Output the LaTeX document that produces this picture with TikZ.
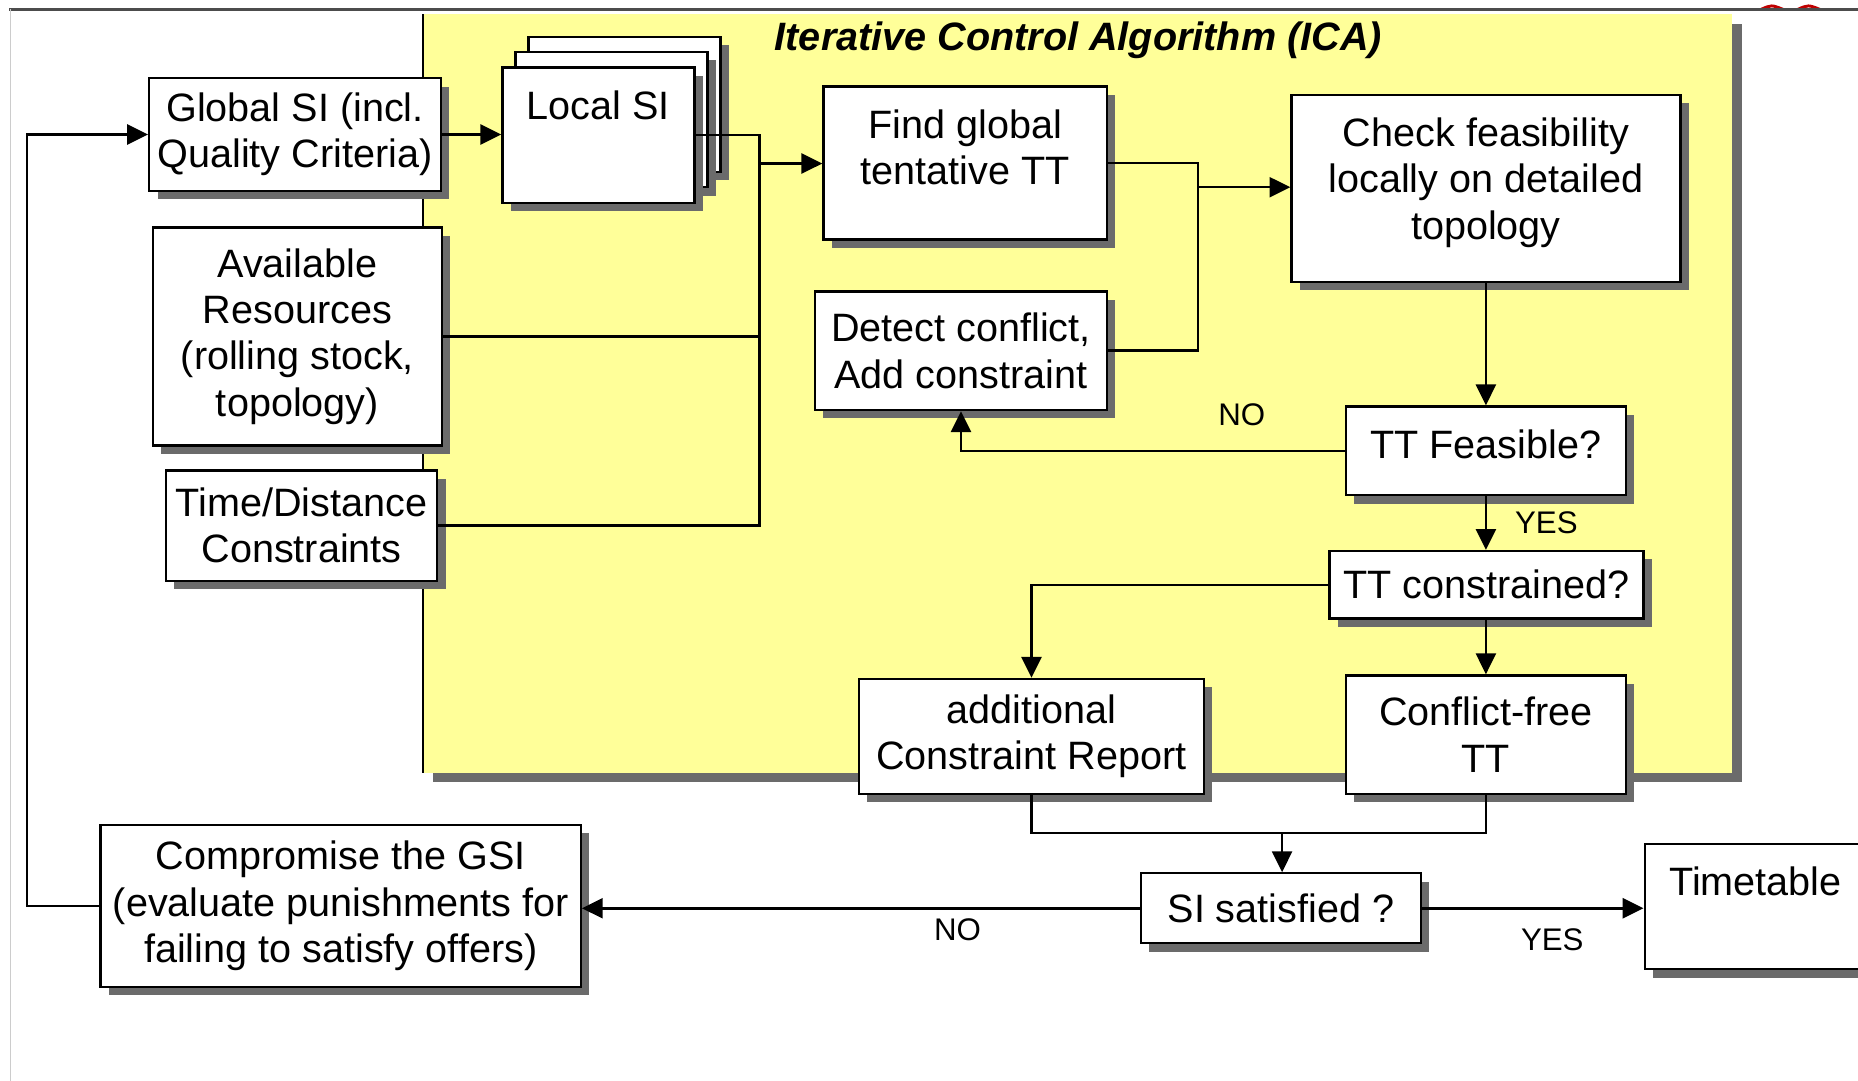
\documentclass[tikz,border=0pt]{standalone}
\usepackage{fontspec}
\setmainfont{Liberation Sans}
\usetikzlibrary{arrows.meta,shadows}

\definecolor{icayellow}{HTML}{FFFF99}
\definecolor{shadowgray}{HTML}{6B6B6B}

\tikzset{
  box/.style={draw, fill=white, line width=.55pt, align=center, inner sep=2pt,
    font=\fontsize{9.5}{11.1}\selectfont,
    drop shadow={shadow xshift=2pt, shadow yshift=-2pt, fill=shadowgray, opacity=1}},
  toptext/.style={label={[anchor=north, yshift=-2.3pt, align=center,
    font=\fontsize{9.5}{11.1}\selectfont]north:#1}},
  link/.style={line width=.6pt},
  arr/.style={link, -{Triangle[length=5pt, width=4.8pt]}},
  answer/.style={font=\fontsize{7.5}{9}\selectfont},
}

\begin{document}
\begin{tikzpicture}[x=0.01cm, y=-0.01cm]

            \useasboundingbox (0,0) rectangle (1568,912);
            \fill[white] (0,0) rectangle (1568,912);
            \draw[red!75!black, line width=.7pt] (1486,8) .. controls (1495,4) .. (1505,8);
            \draw[red!75!black, line width=.7pt] (1517,8) .. controls (1526,4) .. (1536,8);
            \draw[black!70, line width=.6pt] (8,8) -- (1568,8);
            \draw[black!20, line width=.4pt] (9,8) -- (9,912);

            % ICA area
            \fill[shadowgray] (365,20) rectangle (1470,660);
            \fill[icayellow] (357,12) rectangle (1462,652);
            \draw[link] (357,12) -- (357,652);
            \node[font=\fontsize{9.5}{11}\selectfont\bfseries\itshape] (title) at (910,34) {Iterative Control Algorithm (ICA)};

            % inputs
            \node[box, minimum width=2.46cm, minimum height=.95cm] (glob) at (249,113.5) {Global SI (incl.\\Quality Criteria)};
            \node[box, minimum width=2.44cm, minimum height=1.84cm] (avail) at (251,284) {Available\\Resources\\(rolling stock,\\topology)};
            \node[box, minimum width=2.29cm, minimum height=.93cm] (tdc) at (254.5,443.5) {Time/Distance\\Constraints};

            \foreach \i in {2,1} {
              \node[box, minimum width=1.62cm, minimum height=1.14cm] (local\i) at ({505+11*\i},{114-13*\i}) {};
            }
            \node[box, minimum width=1.62cm, minimum height=1.14cm, toptext={Local SI}] (local) at (505,114) {};

            % algorithm
            \node[box, minimum width=2.39cm, minimum height=1.29cm, toptext={Find global\\tentative TT}] (find) at (814.5,137.5) {};
            \node[box, minimum width=2.46cm, minimum height=1cm] (detect) at (811,296) {Detect conflict,\\Add constraint};
            \node[box, minimum width=3.28cm, minimum height=1.58cm, toptext={Check feasibility\\locally on detailed\\topology}] (check) at (1254,159) {};
            \node[box, minimum width=2.36cm, minimum height=.75cm, toptext={TT Feasible?}] (feas) at (1254,380.5) {};
            \node[box, minimum width=2.65cm, minimum height=.57cm] (constr) at (1254.5,493.5) {TT constrained?};
            \node[box, minimum width=2.91cm, minimum height=.97cm] (report) at (870.5,621.5) {additional\\Constraint Report};
            \node[box, minimum width=2.36cm, minimum height=1cm] (cfree) at (1254,620) {Conflict-free\\TT};

            % outputs
            \node[box, minimum width=2.36cm, minimum height=.59cm] (sisat) at (1081,766.5) {SI satisfied ?};
            \node[box, minimum width=4.05cm, minimum height=1.37cm] (comp) at (287.5,764.5) {Compromise the GSI\\(evaluate punishments for\\failing to satisfy offers)};
            \node[box, minimum width=1.87cm, minimum height=1.06cm, toptext={Timetable}] (timet) at (1481.5,765) {};

            % connectors
            \draw[arr] (comp.west) -- ++(-61,0) |- (glob.west);
            \draw[arr] (glob.east) -- (glob.east -| local.west);
            \coordinate (bus) at (641,138);
            \draw[link] (local.east) -| (tdc.east -| bus) -- (tdc.east);
            \draw[link] (avail.east) -- (avail.east -| bus);
            \draw[arr] (bus) -- (bus -| find.west);
            \coordinate (join) at (1011,158);
            \draw[link] (find.east) -| (detect.east -| join) -- (detect.east);
            \draw[arr] (join) -- (join -| check.west);
            \draw[arr] (check.south) -- (feas.north);
            \draw[arr] (feas.west) -| (detect.south);
            \node[answer] (no1) at (1048,350) {NO};
            \draw[arr] (feas.south) -- (feas.south |- constr.north);
            \node[answer] (yes1) at (1305,441) {YES};
            \draw[arr] (constr.west) -| (report.north);
            \draw[arr] (cfree.north |- constr.south) -- (cfree.north);
            \coordinate (merge) at (1082,703);
            \draw[link] (report.south) |- (merge) -| (cfree.south);
            \draw[arr] (merge) -- (merge |- sisat.north);
            \draw[arr] (sisat.west) -- (sisat.west -| comp.east);
            \node[answer] (no2) at (808,785) {NO};
            \draw[arr] (sisat.east) -- (sisat.east -| timet.west);
            \node[answer] (yes2) at (1310,793) {YES};
            \end{tikzpicture}
\end{document}
